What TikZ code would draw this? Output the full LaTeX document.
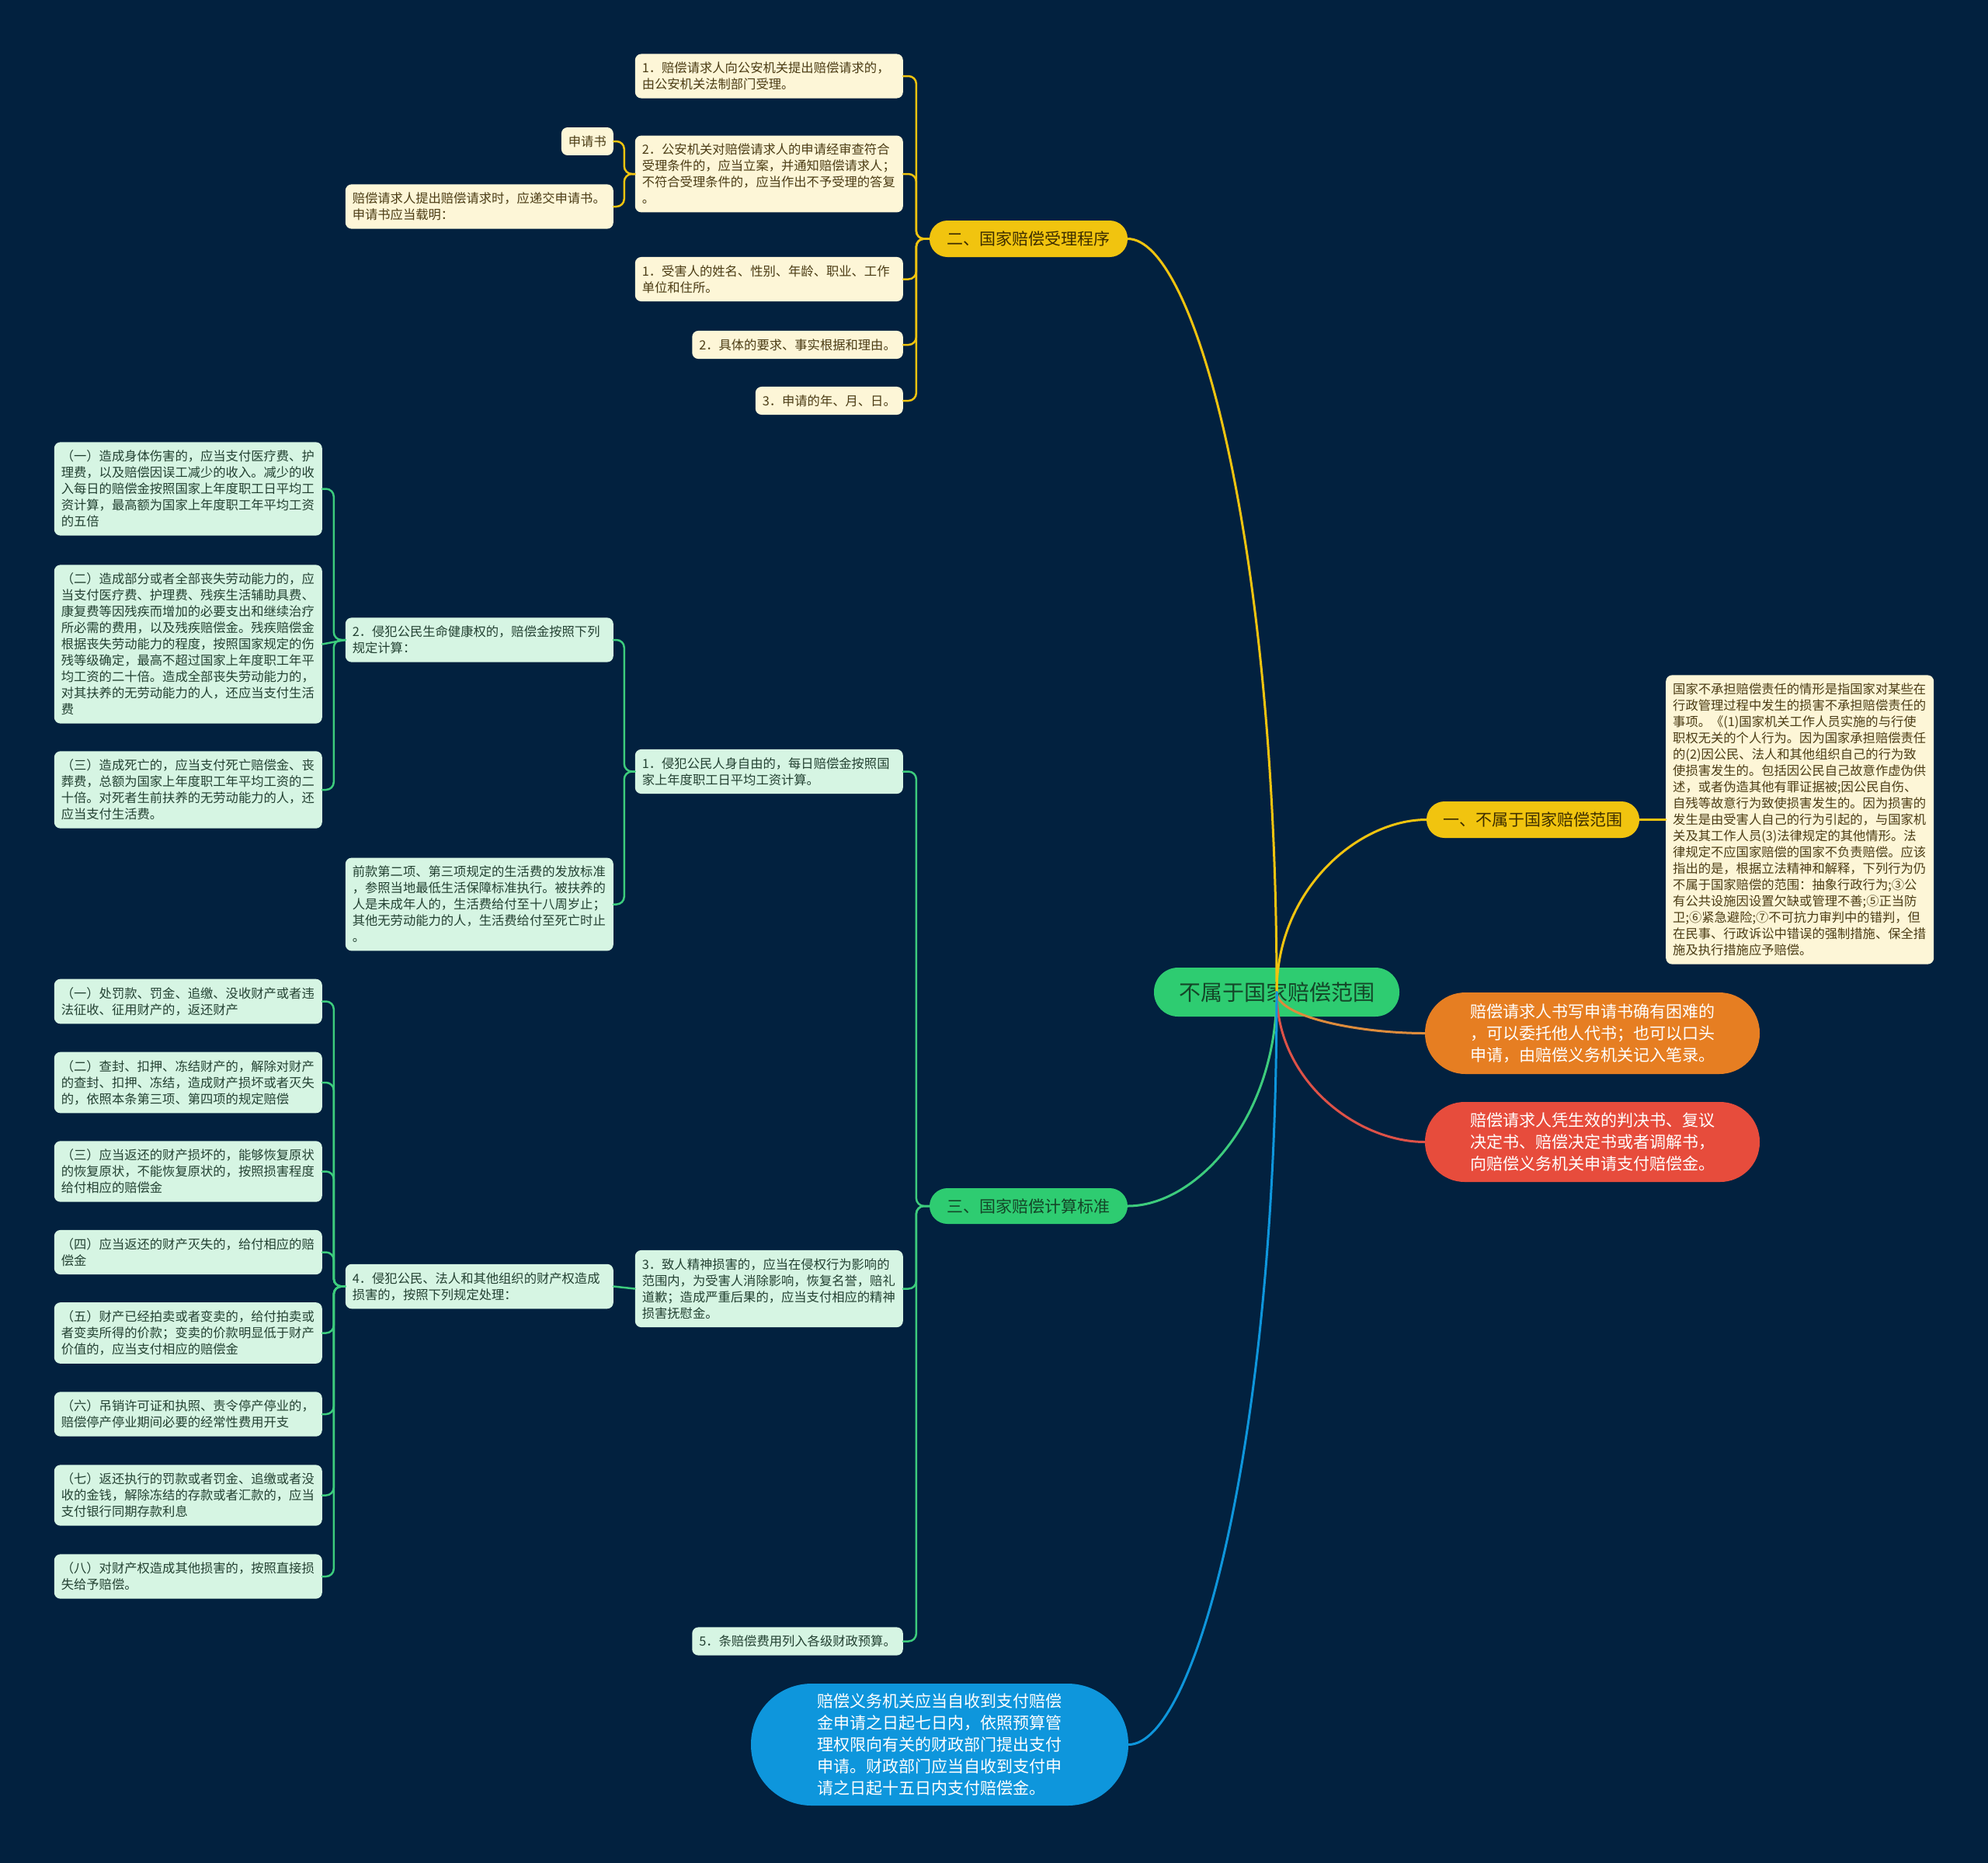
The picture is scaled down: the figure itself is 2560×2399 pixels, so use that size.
\documentclass[tikz,border=0pt]{standalone}
\usepackage{fontspec}
\newfontfamily\cjk{Noto Sans CJK SC}
\usetikzlibrary{calc}
\definecolor{bg}{RGB}{2,33,63}
\definecolor{yel}{RGB}{241,196,15}
\definecolor{yeltext}{RGB}{60,45,0}
\definecolor{cream}{RGB}{253,246,215}
\definecolor{creamtext}{RGB}{75,60,20}
\definecolor{cgreen}{RGB}{46,204,113}
\definecolor{gline}{RGB}{61,204,125}
\definecolor{gtext}{RGB}{20,70,40}
\definecolor{mint}{RGB}{214,245,227}
\definecolor{minttext}{RGB}{35,65,50}
\definecolor{orng}{RGB}{230,126,34}
\definecolor{oline}{RGB}{222,140,60}
\definecolor{redb}{RGB}{231,76,60}
\definecolor{rline}{RGB}{222,82,72}
\definecolor{blu}{RGB}{14,150,220}
\tikzset{
  smallfont/.style={font=\cjk\fontsize{16.3}{21}\selectfont},
  cbox/.style={fill=cream, text=creamtext, rounded corners=8pt, inner xsep=9pt, inner ysep=10.5pt, smallfont, align=left},
  mbox/.style={fill=mint, text=minttext, rounded corners=8pt, inner xsep=9pt, inner ysep=10.5pt, smallfont, align=left},
  wide/.style={text width=327pt},
  cn/.style={fill=cgreen, text=gtext, rounded corners=31pt, minimum width=316pt, minimum height=63pt, inner sep=0pt, font=\cjk\fontsize{28}{34}\selectfont},
  ybr/.style={fill=yel, text=yeltext, rounded corners=23pt, minimum height=47pt, inner sep=0pt, font=\cjk\fontsize{21}{26}\selectfont},
  gbr/.style={fill=cgreen, text=gtext, rounded corners=23pt, minimum height=46pt, inner sep=0pt, font=\cjk\fontsize{21}{26}\selectfont},
  bigbox/.style={text=white, align=left, inner sep=0pt, font=\cjk\fontsize{21}{28}\selectfont},
  mcurve/.style={to path={.. controls ($(\tikztostart)!0.6!(\tikztostart|-\tikztotarget)$) and ($(\tikztotarget)!0.45!(\tikztotarget-|\tikztostart)$) .. (\tikztotarget)}},
  brk/.style={to path={-- ($(\tikztostart)!0.5!(\tikztotarget|-\tikztostart)$) |- (\tikztotarget)}},
  yl/.style={draw=yel, line width=2.5pt, line cap=round, rounded corners=10pt},
  gl/.style={draw=gline, line width=2.5pt, line cap=round, rounded corners=10pt},
  main/.style={line width=3pt, line cap=round},
}
\begin{document}
\begin{tikzpicture}[x=1pt,y=-1pt]
\fill[bg] (0,0) rectangle (2560,2399);
\useasboundingbox (0,0) rectangle (2560,2399);

% central and main branches
\node[cn] (cn) at (1644,1277.5) {不属于国家赔偿范围};
\node[ybr, minimum width=255pt] (two) at (1324.5,307.5) {二、国家赔偿受理程序};
\node[ybr, minimum width=274pt] (one) at (1974,1055.5) {一、不属于国家赔偿范围};
\node[gbr, minimum width=255pt] (three) at (1324.5,1553) {三、国家赔偿计算标准};
\node[bigbox, fill=orng, rounded corners=52pt, minimum width=431pt, minimum height=105pt] (orb) at (2050.5,1330.5) {赔偿请求人书写申请书确有困难的\\，可以委托他人代书；也可以口头\\申请，由赔偿义务机关记入笔录。};
\node[bigbox, fill=redb, rounded corners=51pt, minimum width=431pt, minimum height=103pt] (rdb) at (2050.5,1470.5) {赔偿请求人凭生效的判决书、复议\\决定书、赔偿决定书或者调解书，\\向赔偿义务机关申请支付赔偿金。};
\node[bigbox, fill=blu, rounded corners=78pt, minimum width=486pt, minimum height=157pt] (blb) at (1210,2246.5) {赔偿义务机关应当自收到支付赔偿\\金申请之日起七日内，依照预算管\\理权限向有关的财政部门提出支付\\申请。财政部门应当自收到支付申\\请之日起十五日内支付赔偿金。};

% branch 二 children
\node[cbox, wide, anchor=east] (ta) at (1163,98) {1．赔偿请求人向公安机关提出赔偿请求的，\\由公安机关法制部门受理。};
\node[cbox, wide, anchor=east] (tb) at (1163,224) {2．公安机关对赔偿请求人的申请经审查符合\\受理条件的，应当立案，并通知赔偿请求人；\\不符合受理条件的，应当作出不予受理的答复\\。};
\node[cbox, anchor=east] (sqs) at (790,182) {申请书};
\node[cbox, wide, anchor=east] (tcq) at (790,266) {赔偿请求人提出赔偿请求时，应递交申请书。\\申请书应当载明：};
\node[cbox, wide, anchor=east] (tc) at (1163,359.5) {1．受害人的姓名、性别、年龄、职业、工作\\单位和住所。};
\node[cbox, anchor=east] (td) at (1163,444) {2．具体的要求、事实根据和理由。};
\node[cbox, anchor=east] (te) at (1163,516) {3．申请的年、月、日。};

% branch 一 child
\node[cbox, wide, anchor=west] (yc) at (2145,1055.5) {国家不承担赔偿责任的情形是指国家对某些在\\行政管理过程中发生的损害不承担赔偿责任的\\事项。《(1)国家机关工作人员实施的与行使\\职权无关的个人行为。因为国家承担赔偿责任\\的(2)因公民、法人和其他组织自己的行为致\\使损害发生的。包括因公民自己故意作虚伪供\\述，或者伪造其他有罪证据被;因公民自伤、\\自残等故意行为致使损害发生的。因为损害的\\发生是由受害人自己的行为引起的，与国家机\\关及其工作人员(3)法律规定的其他情形。法\\律规定不应国家赔偿的国家不负责赔偿。应该\\指出的是，根据立法精神和解释，下列行为仍\\不属于国家赔偿的范围：抽象行政行为;③公\\有公共设施因设置欠缺或管理不善;⑤正当防\\卫;⑥紧急避险;⑦不可抗力审判中的错判，但\\在民事、行政诉讼中错误的强制措施、保全措\\施及执行措施应予赔偿。};

% branch 三 children
\node[mbox, wide, anchor=east] (sf) at (1163,993.5) {1．侵犯公民人身自由的，每日赔偿金按照国\\家上年度职工日平均工资计算。};
\node[mbox, wide, anchor=east] (sg) at (1163,1659.5) {3．致人精神损害的，应当在侵权行为影响的\\范围内，为受害人消除影响，恢复名誉，赔礼\\道歉；造成严重后果的，应当支付相应的精神\\损害抚慰金。};
\node[mbox, anchor=east] (sh) at (1163,2113.5) {5．条赔偿费用列入各级财政预算。};
\node[mbox, wide, anchor=east] (sf1) at (790,824) {2．侵犯公民生命健康权的，赔偿金按照下列\\规定计算：};
\node[mbox, wide, anchor=east] (sf2) at (790,1164.5) {前款第二项、第三项规定的生活费的发放标准\\，参照当地最低生活保障标准执行。被扶养的\\人是未成年人的，生活费给付至十八周岁止；\\其他无劳动能力的人，生活费给付至死亡时止\\。};
\node[mbox, wide, anchor=east] (c1) at (415,629.5) {（一）造成身体伤害的，应当支付医疗费、护\\理费，以及赔偿因误工减少的收入。减少的收\\入每日的赔偿金按照国家上年度职工日平均工\\资计算，最高额为国家上年度职工年平均工资\\的五倍};
\node[mbox, wide, anchor=east] (c2) at (415,829.5) {（二）造成部分或者全部丧失劳动能力的，应\\当支付医疗费、护理费、残疾生活辅助具费、\\康复费等因残疾而增加的必要支出和继续治疗\\所必需的费用，以及残疾赔偿金。残疾赔偿金\\根据丧失劳动能力的程度，按照国家规定的伤\\残等级确定，最高不超过国家上年度职工年平\\均工资的二十倍。造成全部丧失劳动能力的，\\对其扶养的无劳动能力的人，还应当支付生活\\费};
\node[mbox, wide, anchor=east] (c3) at (415,1017) {（三）造成死亡的，应当支付死亡赔偿金、丧\\葬费，总额为国家上年度职工年平均工资的二\\十倍。对死者生前扶养的无劳动能力的人，还\\应当支付生活费。};
\node[mbox, wide, anchor=east] (sg1) at (790,1656.5) {4．侵犯公民、法人和其他组织的财产权造成\\损害的，按照下列规定处理：};
\node[mbox, wide, anchor=east] (p1) at (415,1289.5) {（一）处罚款、罚金、追缴、没收财产或者违\\法征收、征用财产的，返还财产};
\node[mbox, wide, anchor=east] (p2) at (415,1394) {（二）查封、扣押、冻结财产的，解除对财产\\的查封、扣押、冻结，造成财产损坏或者灭失\\的，依照本条第三项、第四项的规定赔偿};
\node[mbox, wide, anchor=east] (p3) at (415,1508.5) {（三）应当返还的财产损坏的，能够恢复原状\\的恢复原状，不能恢复原状的，按照损害程度\\给付相应的赔偿金};
\node[mbox, wide, anchor=east] (p4) at (415,1612.5) {（四）应当返还的财产灭失的，给付相应的赔\\偿金};
\node[mbox, wide, anchor=east] (p5) at (415,1716.5) {（五）财产已经拍卖或者变卖的，给付拍卖或\\者变卖所得的价款；变卖的价款明显低于财产\\价值的，应当支付相应的赔偿金};
\node[mbox, wide, anchor=east] (p6) at (415,1821) {（六）吊销许可证和执照、责令停产停业的，\\赔偿停产停业期间必要的经常性费用开支};
\node[mbox, wide, anchor=east] (p7) at (415,1925.5) {（七）返还执行的罚款或者罚金、追缴或者没\\收的金钱，解除冻结的存款或者汇款的，应当\\支付银行同期存款利息};
\node[mbox, wide, anchor=east] (p8) at (415,2030) {（八）对财产权造成其他损害的，按照直接损\\失给予赔偿。};

% main connectors (over the central node)
\draw[main, draw=yel] (cn.center) to[mcurve] (two.east);
\draw[main, draw=yel] (cn.center) to[mcurve] (one.west);
\draw[main, draw=oline] (cn.center) to[mcurve] (orb.west);
\draw[main, draw=rline] (cn.center) to[mcurve] (rdb.west);
\draw[main, draw=gline] (cn.center) to[mcurve] (three.east);
\draw[main, draw=blu] (cn.center) to[mcurve] (blb.east);

% yellow sub connectors
\foreach \c in {ta,tb,tc,td,te} \draw[yl] (two.west) to[brk] (\c.east);
\draw[yl] (tb.west) to[brk] (sqs.east);
\draw[yl] (tb.west) to[brk] (tcq.east);
\draw[yl] (one.east) -- (yc.west);

% green sub connectors
\foreach \c in {sf,sg,sh} \draw[gl] (three.west) to[brk] (\c.east);
\draw[gl] (sf.west) to[brk] (sf1.east);
\draw[gl] (sf.west) to[brk] (sf2.east);
\draw[gl] (sf1.west) to[brk] (c1.east);
\draw[gl] (sf1.west) -- (c2.east);
\draw[gl] (sf1.west) to[brk] (c3.east);
\draw[gl] (sg.west) -- (sg1.east);
\foreach \c in {p1,p2,p3,p4,p5,p6,p7,p8} \draw[gl] (sg1.west) to[brk] (\c.east);
\end{tikzpicture}
\end{document}
